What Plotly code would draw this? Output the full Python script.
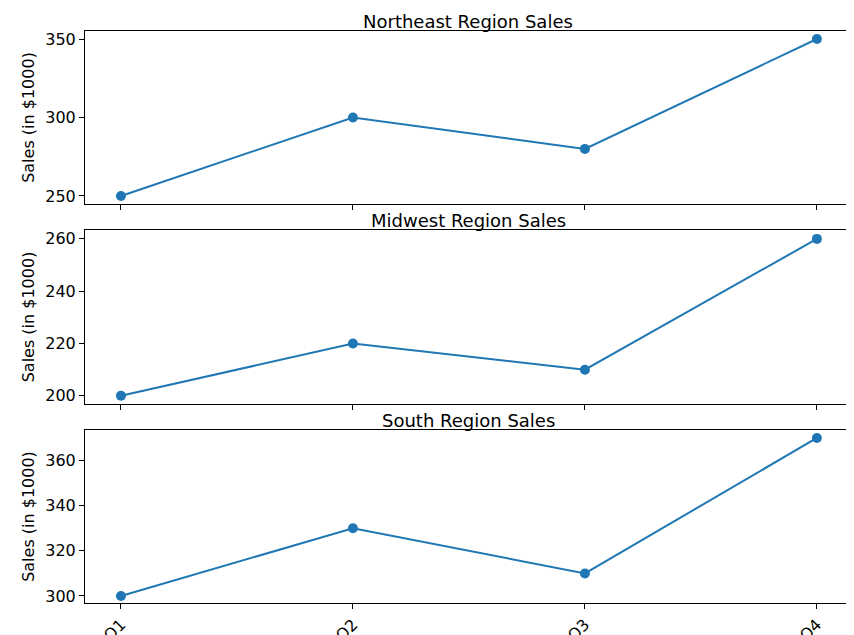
import plotly.graph_objects as go

quarters = ["Q1", "Q2", "Q3", "Q4"]
northeast = [250, 300, 280, 350]
midwest = [200, 220, 210, 260]
south = [300, 330, 310, 370]

panels = [
    ("Northeast Region Sales", northeast, [0.6976, 1.0], [244.9, 355.1], [250, 300, 350]),
    ("Midwest Region Sales", midwest, [0.348, 0.6521], [196.9, 263.4], [200, 220, 240, 260]),
    ("South Region Sales", south, [0.0, 0.3024], [296.9, 373.5], [300, 320, 340, 360]),
]

fig = go.Figure()
font = dict(family="DejaVu Sans", size=16, color="black")

for i, (title, vals, dom, yr, ticks) in enumerate(panels, start=1):
    xa = "x" if i == 1 else f"x{i}"
    ya = "y" if i == 1 else f"y{i}"
    fig.add_trace(go.Scatter(x=[0, 1, 2, 3], y=vals, mode="lines+markers",
                             line=dict(color="#1f77b4", width=2),
                             marker=dict(size=10, color="#1f77b4"),
                             xaxis=xa, yaxis=ya, showlegend=False, cliponaxis=False))
    axis_common = dict(showline=True, linecolor="black", linewidth=1, mirror=True,
                       ticks="outside", ticklen=5, tickcolor="black",
                       showgrid=False, zeroline=False, tickfont=font, automargin=False)
    fig.layout[f"xaxis{'' if i == 1 else i}"] = dict(
        anchor=ya, domain=[0, 1], range=[-0.155, 3.147],
        tickvals=[0, 1, 2, 3], ticktext=quarters if i == 3 else ["", "", "", ""],
        tickangle=-45, **axis_common)
    fig.layout[f"yaxis{'' if i == 1 else i}"] = dict(
        anchor=xa, domain=dom, range=yr, tickvals=ticks,
        title=dict(text="Sales (in $1000)", font=font, standoff=6), **axis_common)
    fig.add_annotation(text=title, x=0.5, y=dom[1], xref="paper", yref="paper",
                       xanchor="center", yanchor="bottom", yshift=-3, showarrow=False,
                       font=dict(family="DejaVu Sans", size=18, color="black"))

fig.update_layout(width=854, height=635, margin=dict(l=77, r=11, t=23, b=40),
                  plot_bgcolor="white", paper_bgcolor="white")

fig.write_html("out.html")
